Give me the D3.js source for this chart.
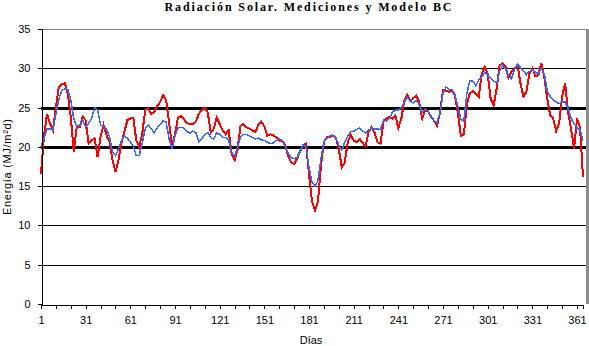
<!DOCTYPE html>
<html>
<head>
<meta charset="utf-8">
<script src="https://cdn.jsdelivr.net/npm/d3@7"></script>
<style>
  body { margin: 0; background: #fff; }
  svg { display: block; font-family: Arial, "Liberation Sans", sans-serif; }
</style>
</head>
<body>
<div id="chart-area"></div>
<script>
// Day numbers of the readings (every second day of the year)
var days = d3.range(1, 366, 2);

// Mediciones (red), MJ/m2d
var mediciones = [
  16.6, 21.3, 24.2, 23.0, 22.1, 25.1, 27.6, 28.0, 28.1, 26.8,
  23.8, 19.4, 22.5, 22.5, 23.8, 23.4, 20.4, 20.8, 21.1, 18.7,
  21.3, 22.8, 21.5, 20.6, 18.3, 16.8, 18.3, 20.4, 21.9, 23.4,
  23.6, 23.7, 20.8, 20.0, 21.7, 24.7, 24.9, 24.2, 24.4, 25.2,
  25.7, 26.6, 26.0, 23.1, 20.2, 21.6, 23.7, 23.9, 23.5, 23.0,
  22.9, 22.9, 23.2, 24.2, 24.7, 25.0, 24.4, 21.8, 22.3, 23.7,
  22.9, 22.1, 21.6, 22.1, 19.1, 18.3, 19.7, 22.7, 22.9, 22.5,
  22.3, 22.1, 21.9, 22.8, 23.2, 22.6, 21.4, 21.6, 21.5, 21.2,
  20.8, 20.8, 20.2, 18.8, 18.0, 17.8, 18.5, 19.4, 20.2, 20.4,
  16.5, 13.0, 11.9, 13.0, 17.6, 20.6, 21.2, 21.3, 21.4, 21.2,
  19.7, 17.4, 18.0, 20.6, 21.5, 20.8, 20.6, 21.0, 20.5, 20.0,
  21.9, 22.5, 21.8, 20.6, 20.4, 23.2, 23.6, 23.8, 23.6, 24.0,
  22.4, 23.6, 25.9, 26.6, 25.8, 26.2, 26.5, 25.7, 23.6, 24.7,
  24.5, 23.8, 23.3, 22.7, 24.4, 27.2, 27.1, 27.0, 27.2, 26.6,
  24.2, 21.4, 21.6, 25.5, 26.8, 27.1, 26.8, 26.4, 29.3, 30.2,
  29.3, 26.1, 25.3, 27.4, 30.4, 30.6, 30.2, 28.8, 29.6, 29.9,
  30.4, 28.1, 26.4, 27.0, 29.3, 30.0, 29.0, 29.1, 30.7, 28.9,
  26.1, 24.0, 23.6, 22.0, 23.0, 26.4, 28.1, 24.4, 22.3, 19.8,
  23.6, 22.5, 16.2
];

// Modelo BC (blue), MJ/m2d
var modelo = [
  20.0, 21.0, 22.3, 22.3, 22.1, 24.2, 26.1, 27.2, 27.4, 27.3,
  26.0, 23.6, 22.6, 22.7, 23.4, 22.5, 23.0, 23.6, 25.0, 24.7,
  22.8, 22.6, 22.2, 21.3, 19.4, 18.9, 19.7, 20.8, 21.4, 21.1,
  20.6, 20.1, 18.9, 18.9, 20.5, 22.3, 22.8, 22.3, 21.8, 22.4,
  22.9, 23.3, 23.2, 21.0, 19.7, 21.4, 22.4, 22.5, 22.4, 22.0,
  21.7, 22.0, 21.8, 20.7, 21.0, 21.6, 21.8, 21.2, 21.0, 21.8,
  21.6, 21.2, 21.2, 20.8, 19.3, 18.8, 20.0, 21.2, 21.6, 21.6,
  21.4, 21.2, 21.0, 21.1, 20.9, 20.8, 20.6, 20.4, 20.5, 20.8,
  21.0, 20.8, 20.0, 19.2, 18.6, 18.5, 18.7, 19.5, 20.3, 20.0,
  17.4, 15.5, 15.0, 15.7, 18.5, 20.6, 21.1, 21.4, 21.5, 21.2,
  20.2, 19.6, 20.6, 21.4, 21.9, 22.0, 22.2, 22.4, 22.0, 21.8,
  22.1, 22.4, 22.3, 22.3, 22.2, 23.4, 23.3, 23.6, 24.4, 24.7,
  24.7, 25.0, 25.7, 26.3, 25.8, 25.6, 25.9, 25.4, 24.4, 24.8,
  24.6, 23.9, 23.3, 23.1, 24.4, 26.8, 27.6, 27.3, 27.3, 26.7,
  25.1, 23.5, 23.3, 26.8, 28.4, 28.4, 27.8, 28.5, 28.9, 29.5,
  29.2, 28.7, 28.4, 28.1, 29.6, 30.4, 29.9, 29.1, 28.7, 29.9,
  30.5, 30.1, 29.7, 29.2, 29.6, 29.8, 29.5, 29.3, 30.0, 29.3,
  27.1, 26.4, 26.0, 25.7, 25.5, 25.7, 25.7, 24.9, 23.6, 23.0,
  22.4, 22.2, 20.8
];

var yTicks = [0, 5, 10, 15, 20, 25, 30, 35];
var xLabels = [1, 31, 61, 91, 121, 151, 181, 211, 241, 271, 301, 331, 361];
var xTicks = [1, 11, 21, 31, 41, 51, 61, 71, 81, 91, 101, 111, 121, 131, 141, 151, 161, 171,
  181, 191, 201, 211, 221, 231, 241, 251, 261, 271, 281, 291, 301, 311, 321, 331, 341, 351, 361];
var boldGrid = [20, 25];

var svgW = 589, svgH = 346;
var plotL = 41, plotR = 587, plotT = 29, plotB = 304;

var svg = d3.select("#chart-area")
  .append("svg")
    .attr("width", svgW)
    .attr("height", svgH);

var x = d3.scaleLinear()
  .domain([1, 365])
  .range([plotL, 583]);

var y = d3.scaleLinear()
  .domain([0, 35])
  .range([plotB, plotT]);

// gridlines
svg.append("g")
  .selectAll("line")
  .data(yTicks.filter(function(d) { return d > 0; }))
  .enter().append("line")
    .attr("x1", plotL)
    .attr("x2", plotR)
    .attr("y1", function(d) { return Math.round(y(d)) + 0.5; })
    .attr("y2", function(d) { return Math.round(y(d)) + 0.5; })
    .attr("stroke", function(d) { return d === 35 ? "#808080" : "#000"; })
    .attr("stroke-width", function(d) { return boldGrid.indexOf(d) >= 0 ? 3 : 1; })
    .attr("shape-rendering", "crispEdges");

// right border of plot area
svg.append("line")
  .attr("x1", plotR).attr("x2", plotR)
  .attr("y1", plotT).attr("y2", plotB)
  .attr("stroke", "#8c8c8c")
  .attr("stroke-width", 3)
  .attr("shape-rendering", "crispEdges");

// series
var line = d3.line()
  .x(function(d, i) { return x(days[i]); })
  .y(function(d) { return y(d); });

svg.append("path")
  .datum(mediciones)
  .attr("fill", "none")
  .attr("stroke", "#ff0000")
  .attr("stroke-width", 2)
  .attr("shape-rendering", "crispEdges")
  .attr("d", line);

svg.append("path")
  .datum(modelo)
  .attr("fill", "none")
  .attr("stroke", "#3366ff")
  .attr("stroke-width", 1.5)
  .attr("shape-rendering", "crispEdges")
  .attr("d", line);

// y axis
svg.append("g")
  .attr("transform", "translate(" + (plotL + 0.5) + ",0)")
  .call(d3.axisLeft(y).tickValues(yTicks).tickSize(4).tickPadding(7));

// x axis (minor ticks)
svg.append("g")
  .attr("transform", "translate(0," + (plotB + 0.5) + ")")
  .call(d3.axisBottom(x).tickValues(xTicks).tickSize(4).tickFormat(""));

// x axis labels
svg.append("g")
  .attr("transform", "translate(0," + (plotB + 0.5) + ")")
  .call(d3.axisBottom(x).tickValues(xLabels).tickSize(0).tickPadding(12))
  .call(function(g) { g.select(".domain").remove(); });

svg.selectAll(".tick text")
  .attr("font-size", "11px")
  .attr("font-family", "Arial, 'Liberation Sans', sans-serif")
  .attr("fill", "#000");
svg.selectAll(".domain").attr("stroke", "#000").attr("shape-rendering", "crispEdges");
svg.selectAll(".tick line").attr("stroke", "#000").attr("shape-rendering", "crispEdges");

// title
svg.append("text")
  .attr("x", 308)
  .attr("y", 11)
  .attr("text-anchor", "middle")
  .attr("font-family", "'Times New Roman', 'Liberation Serif', serif")
  .attr("font-weight", "bold")
  .attr("font-size", "12px")
  .attr("textLength", 287)
  .attr("lengthAdjust", "spacing")
  .text("Radiación Solar. Mediciones y Modelo BC");

// Y label
svg.append("text")
  .attr("transform", "translate(11," + 167 + ") rotate(-90)")
  .attr("text-anchor", "middle")
  .attr("font-size", "11px")
  .attr("textLength", 96)
  .attr("lengthAdjust", "spacing")
  .text("Energía (MJ/m²d)");

// X label
svg.append("text")
  .attr("x", 311)
  .attr("y", 344)
  .attr("text-anchor", "middle")
  .attr("font-size", "11px")
  .text("Días");
</script>
</body>
</html>
